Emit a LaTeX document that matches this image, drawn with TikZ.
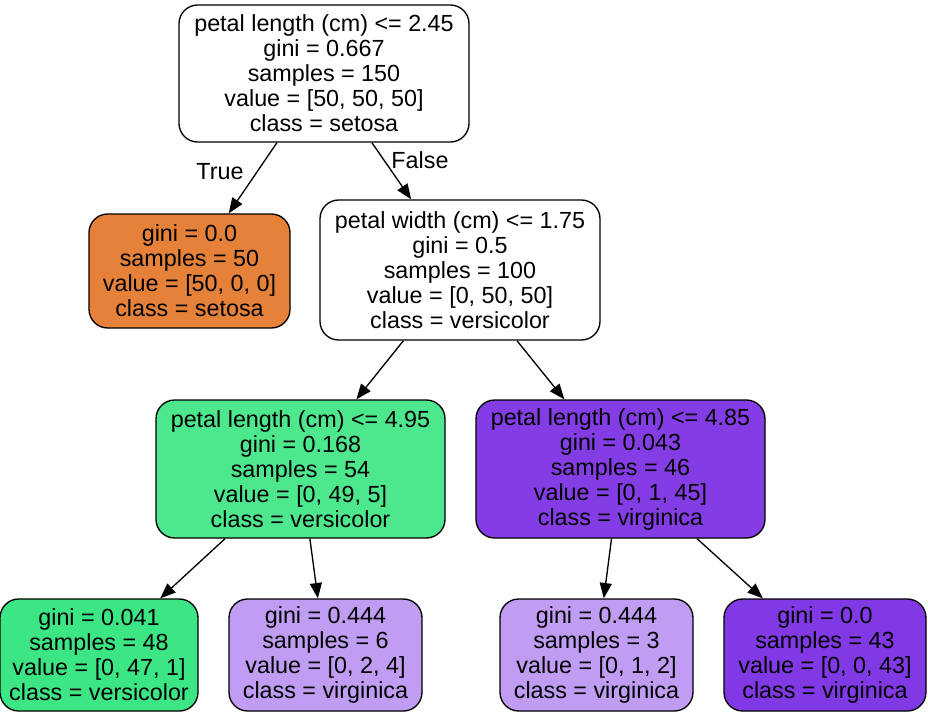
\documentclass[tikz,border=0pt]{standalone}
\usepackage{fontspec}
\setmainfont{Liberation Sans}
\usetikzlibrary{arrows.meta}
\definecolor{cwhite}{HTML}{FFFFFF}
\definecolor{csetosa}{HTML}{E58139}
\definecolor{cvers}{HTML}{4DE88E}
\definecolor{cversB}{HTML}{3DE684}
\definecolor{cvirgA}{HTML}{843DE5}
\definecolor{cvirgL}{HTML}{C09CF2}
\definecolor{cvirg}{HTML}{8139E5}
\begin{document}
\begin{tikzpicture}[x=0.75pt,y=-0.75pt,
  tnode/.style={draw=black,line width=1pt,rounded corners=14pt,rectangle,
    align=center,inner sep=0pt,font=\fontsize{17.5}{18.75}\selectfont},
  edge/.style={draw=black,line width=1pt,-{Triangle[length=11.5pt,width=9pt]}},
  elabel/.style={font=\fontsize{17.5}{18.75}\selectfont,inner sep=0pt}]
\useasboundingbox (0,0) rectangle (928,715);
\node[tnode,fill=cwhite,minimum width=217.5pt,minimum height=102.75pt] (root) at (324,73.5)
  {petal length (cm) <= 2.45\\gini = 0.667\\samples = 150\\value = [50, 50, 50]\\class = setosa};
\node[tnode,fill=csetosa,minimum width=150.75pt,minimum height=85.5pt] (l) at (189.5,271)
  {gini = 0.0\\samples = 50\\value = [50, 0, 0]\\class = setosa};
\node[tnode,fill=cwhite,minimum width=210pt,minimum height=105pt] (r) at (460,270)
  {petal width (cm) <= 1.75\\gini = 0.5\\samples = 100\\value = [0, 50, 50]\\class = versicolor};
\node[tnode,fill=cvers,minimum width=216.75pt,minimum height=103.5pt] (rl) at (300.5,469)
  {petal length (cm) <= 4.95\\gini = 0.168\\samples = 54\\value = [0, 49, 5]\\class = versicolor};
\node[tnode,fill=cvirgA,minimum width=216.75pt,minimum height=103.5pt] (rr) at (620.5,469)
  {petal length (cm) <= 4.85\\gini = 0.043\\samples = 46\\value = [0, 1, 45]\\class = virginica};
\node[tnode,fill=cversB,minimum width=148.5pt,minimum height=84pt] (a) at (99,655)
  {gini = 0.041\\samples = 48\\value = [0, 47, 1]\\class = versicolor};
\node[tnode,fill=cvirgL,minimum width=144.75pt,minimum height=84pt] (b) at (325.5,655)
  {gini = 0.444\\samples = 6\\value = [0, 2, 4]\\class = virginica};
\node[tnode,fill=cvirgL,minimum width=144.75pt,minimum height=84pt] (c) at (596.5,655)
  {gini = 0.444\\samples = 3\\value = [0, 1, 2]\\class = virginica};
\node[tnode,fill=cvirg,minimum width=151.5pt,minimum height=84pt] (d) at (825,655)
  {gini = 0.0\\samples = 43\\value = [0, 0, 43]\\class = virginica};
\draw[edge] (root) -- (l);
\draw[edge] (root) -- (r);
\draw[edge] (r) -- (rl);
\draw[edge] (r) -- (rr);
\draw[edge] (rl) -- (a);
\draw[edge] (rl) -- (b);
\draw[edge] (rr) -- (c);
\draw[edge] (rr) -- (d);
\node[elabel] (t) at (220,172) {True};
\node[elabel] (f) at (420,160) {False};
\end{tikzpicture}
\end{document}
